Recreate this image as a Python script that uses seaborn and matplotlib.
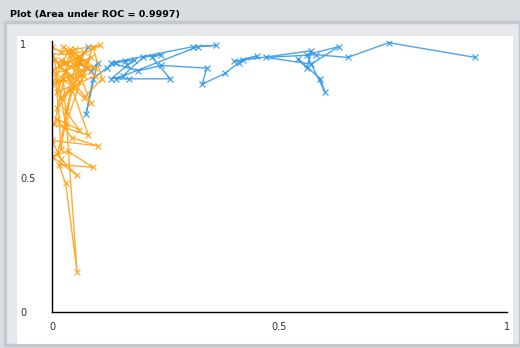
import matplotlib
matplotlib.use("Agg")
import matplotlib.pyplot as plt
import seaborn as sns
from matplotlib.patches import Rectangle

# ROC curve points (false positive rate, true positive rate)
blue_fpr = [0.079, 0.060, 0.085, 0.100, 0.075, 0.090, 0.120, 0.140, 0.160, 0.180,
            0.165, 0.130, 0.155, 0.200, 0.240, 0.220, 0.260, 0.170, 0.140, 0.320,
            0.360, 0.310, 0.130, 0.190, 0.240, 0.340, 0.330, 0.380, 0.410, 0.420,
            0.450, 0.400, 0.570, 0.560, 0.540, 0.590, 0.600, 0.560, 0.630, 0.570,
            0.470, 0.580, 0.650, 0.740, 0.930]
blue_tpr = [0.990, 0.930, 0.900, 0.930, 0.740, 0.870, 0.910, 0.930, 0.935, 0.940,
            0.920, 0.870, 0.880, 0.950, 0.960, 0.950, 0.870, 0.870, 0.870, 0.990,
            0.995, 0.990, 0.930, 0.900, 0.920, 0.910, 0.850, 0.890, 0.930, 0.940,
            0.955, 0.935, 0.975, 0.910, 0.945, 0.870, 0.820, 0.960, 0.990, 0.925,
            0.950, 0.960, 0.950, 1.005, 0.950]

orange_fpr = [0.000, 0.020, 0.050, 0.105, 0.030, 0.000, 0.060, 0.010, 0.040, 0.080,
              0.020, 0.050, 0.000, 0.070, 0.030, 0.060, 0.010, 0.045, 0.100, 0.000,
              0.020, 0.055, 0.000, 0.035, 0.090, 0.015, 0.030, 0.055, 0.025, 0.070,
              0.110, 0.090, 0.030, 0.005, 0.065, 0.040, 0.012, 0.085, 0.050, 0.020,
              0.008, 0.075, 0.025, 0.095, 0.010, 0.045, 0.085, 0.015, 0.060, 0.035,
              0.000, 0.070, 0.020, 0.095, 0.040, 0.005, 0.080, 0.030, 0.060, 0.012]
orange_tpr = [0.990, 0.970, 0.980, 0.995, 0.930, 0.900, 0.950, 0.860, 0.880, 0.910,
              0.800, 0.840, 0.960, 0.970, 0.750, 0.680, 0.720, 0.650, 0.620, 0.640,
              0.570, 0.510, 0.580, 0.600, 0.540, 0.550, 0.480, 0.150, 0.870, 0.800,
              0.870, 0.990, 0.700, 0.940, 0.900, 0.830, 0.760, 0.950, 0.920, 0.610,
              0.890, 0.930, 0.990, 0.880, 0.820, 0.960, 0.780, 0.920, 0.860, 0.970,
              0.850, 0.880, 0.940, 0.910, 0.980, 0.700, 0.660, 0.900, 0.940, 0.590]

title = "Plot (Area under ROC = 0.9997)"
blue = "#2b95e8"
orange = "#ff9e0c"

sns.set_style("white")
plt.rcParams["font.family"] = ["DejaVu Sans"]

fig = plt.figure(figsize=(5.2, 3.48), dpi=100)
fig.patch.set_facecolor("#d9dce1")

W, H = 520, 348
# panel frame and white drawing area
fig.patches.append(Rectangle((5 / W, 3 / H), 515 / W, (H - 3 - 22) / H,
                             transform=fig.transFigure, facecolor="#e6e8ec",
                             edgecolor="#c3c7ce", linewidth=2.5, zorder=-2))
fig.patches.append(Rectangle((17 / W, 4 / H), 496 / W, (H - 4 - 36) / H,
                             transform=fig.transFigure, facecolor="white",
                             edgecolor="none", zorder=-1))
fig.text(10 / W, 1 - 14 / H, title, fontsize=6.8, fontweight="bold",
         color="black", va="center", ha="left")

ax = fig.add_axes([52 / W, (H - 312) / H, 455 / W, 271 / H])
ax.set_facecolor("none")
ax.set_zorder(2)

for xs, ys, c in [(blue_fpr, blue_tpr, blue), (orange_fpr, orange_tpr, orange)]:
    sns.lineplot(x=xs, y=ys, sort=False, estimator=None, color=c, linewidth=1.0,
                 marker="x", markersize=4, markeredgewidth=0.9, markeredgecolor=c,
                 alpha=0.85, ax=ax)

ax.set_xlim(0, 1)
ax.set_ylim(0, 271 / 268)
ax.set_xlabel("")
ax.set_ylabel("")
for s in ["top", "right"]:
    ax.spines[s].set_visible(False)
for s in ["left", "bottom"]:
    ax.spines[s].set_color("black")
    ax.spines[s].set_linewidth(1.0)

ax.set_xticks([0, 0.5, 1])
ax.set_xticklabels(["0", "0.5", "1"])
ax.set_yticks([0, 0.5, 1])
ax.set_yticklabels(["0", "0.5", "1"])
ax.tick_params(axis="both", length=3, width=0.8, color="black",
               labelsize=7, labelcolor="#333333", direction="out")
ax.tick_params(axis="x", pad=4)
ax.tick_params(axis="y", pad=20)
for lab in ax.get_yticklabels():
    lab.set_horizontalalignment("left")

fig.savefig("out.png", dpi=100, facecolor=fig.get_facecolor())
